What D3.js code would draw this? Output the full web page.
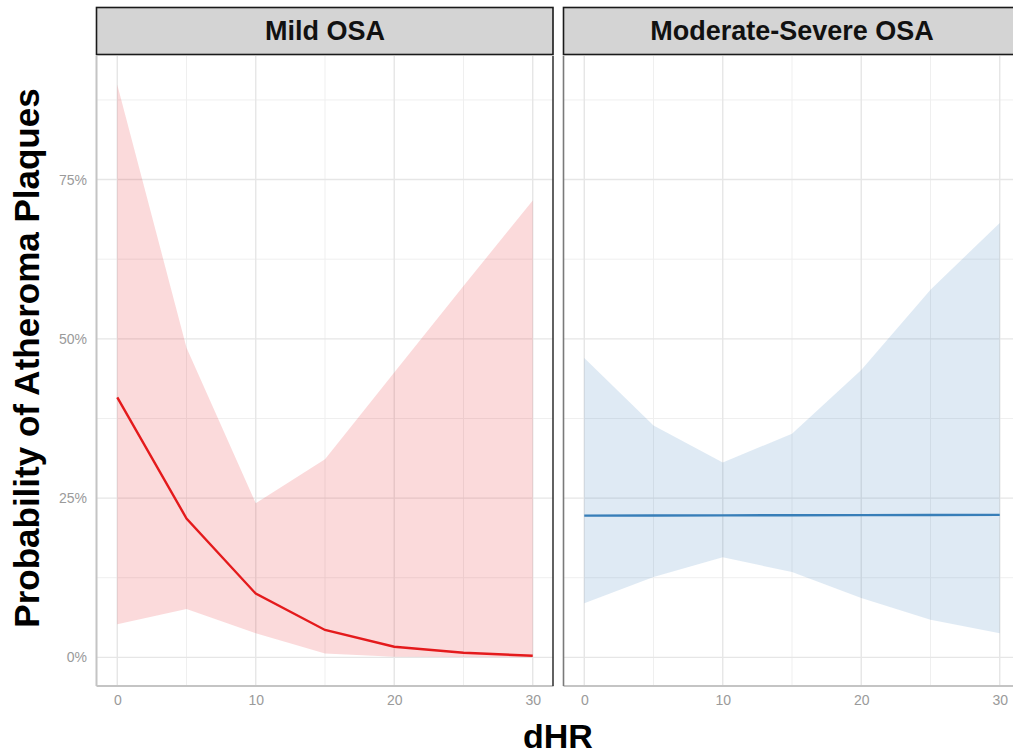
<!DOCTYPE html>
<html>
<head>
<meta charset="utf-8">
<script src="https://cdn.jsdelivr.net/npm/d3@7/dist/d3.min.js"></script>
<style>
  html, body { margin: 0; padding: 0; background: #fff; }
  svg { display: block; font-family: "Liberation Sans", Arial, Helvetica, sans-serif; }
</style>
</head>
<body>
<svg id="chart" width="1013" height="755"></svg>
<script>
// ---- Data ----
const panels = ["Mild OSA", "Moderate-Severe OSA"];
const dHR = [0, 5, 10, 15, 20, 25, 30];

const mildFit   = [0.408, 0.218, 0.100, 0.043, 0.0167, 0.0072, 0.0025];
const mildUpper = [0.899, 0.486, 0.242, 0.311, 0.447, 0.583, 0.717];
const mildLower = [0.052, 0.076, 0.038, 0.006, 0.001, 0.0005, 0.0001];

const modFit    = [0.2225, 0.2227, 0.2229, 0.2231, 0.2233, 0.2235, 0.2237];
const modUpper  = [0.470, 0.364, 0.306, 0.351, 0.451, 0.577, 0.682];
const modLower  = [0.085, 0.126, 0.157, 0.134, 0.093, 0.059, 0.038];

const xTicks = [0, 10, 20, 30];
const xMinor = [5, 15, 25];
const yTicks = [0, 0.25, 0.5, 0.75];
const yMinor = [0.125, 0.375, 0.625, 0.875];
const yTickLabels = ["0%", "25%", "50%", "75%"];

const lineColors = ["#e41a1c", "#377eb8"];

const series = [
  { name: panels[0], fit: mildFit, lo: mildLower, hi: mildUpper },
  { name: panels[1], fit: modFit,  lo: modLower,  hi: modUpper }
];

// ---- Layout ----
const svg = d3.select("#chart");
const plotTop = 56, plotBottom = 686;
const panelRanges = [[96.5, 553.5], [563.5, 1020.5]];

// ggplot-like 5% expansion
const xExt = d3.extent(dHR);
const xPad = (xExt[1] - xExt[0]) * 0.05;
const allY = [].concat(mildLower, mildUpper, modLower, modUpper, mildFit, modFit);
const yExt = [0, d3.max(allY)];
const yPad = (yExt[1] - yExt[0]) * 0.05;

const y = d3.scaleLinear().domain([yExt[0] - yPad, yExt[1] + yPad]).range([plotBottom, plotTop]);

series.forEach((s, i) => {
  const [x0, x1] = panelRanges[i];
  const x = d3.scaleLinear().domain([xExt[0] - xPad, xExt[1] + xPad]).range([x0, x1]);
  const g = svg.append("g");

  // grid minor
  g.selectAll(".gxm").data(xMinor).join("line")
    .attr("x1", d => x(d)).attr("x2", d => x(d)).attr("y1", plotTop).attr("y2", plotBottom)
    .attr("stroke", "#efefef").attr("stroke-width", 1);
  g.selectAll(".gym").data(yMinor).join("line")
    .attr("x1", x0).attr("x2", x1).attr("y1", d => y(d)).attr("y2", d => y(d))
    .attr("stroke", "#efefef").attr("stroke-width", 1);
  // grid major
  g.selectAll(".gx").data(xTicks).join("line")
    .attr("x1", d => x(d)).attr("x2", d => x(d)).attr("y1", plotTop).attr("y2", plotBottom)
    .attr("stroke", "#e6e6e6").attr("stroke-width", 1.4);
  g.selectAll(".gy").data(yTicks).join("line")
    .attr("x1", x0).attr("x2", x1).attr("y1", d => y(d)).attr("y2", d => y(d))
    .attr("stroke", "#e6e6e6").attr("stroke-width", 1.4);

  // ribbon
  const pts = dHR.map((d, k) => ({ x: d, lo: s.lo[k], hi: s.hi[k], fit: s.fit[k] }));
  g.append("path").datum(pts)
    .attr("d", d3.area().x(d => x(d.x)).y0(d => y(d.lo)).y1(d => y(d.hi)))
    .attr("fill", lineColors[i]).attr("fill-opacity", 0.16);
  // line
  g.append("path").datum(pts)
    .attr("d", d3.line().x(d => x(d.x)).y(d => y(d.fit)))
    .attr("fill", "none").attr("stroke", lineColors[i]).attr("stroke-width", 2.4);

  // axis lines
  g.append("line").attr("x1", x0).attr("x2", x1).attr("y1", plotBottom).attr("y2", plotBottom)
    .attr("stroke", "#c4c4c4").attr("stroke-width", 2);
  g.append("line").attr("x1", x0).attr("x2", x0).attr("y1", plotTop).attr("y2", plotBottom)
    .attr("stroke", i === 0 ? "#c4c4c4" : "#7a7a7a").attr("stroke-width", i === 0 ? 2 : 1.6);
  if (i === 0) {
    g.append("line").attr("x1", x1 - 0.5).attr("x2", x1 - 0.5).attr("y1", plotTop).attr("y2", plotBottom)
      .attr("stroke", "#3a3a3a").attr("stroke-width", 1.6);
  }

  // x axis labels
  const xa = d3.axisBottom(x).tickValues(xTicks).tickSize(0).tickPadding(0).tickFormat(d3.format("d"));
  const xg = g.append("g").attr("transform", `translate(0,${plotBottom + 9})`).call(xa);
  xg.select(".domain").remove();
  xg.selectAll("text").attr("fill", "#9a9a9a").attr("font-size", 14).attr("dy", "0.71em")
    .attr("font-family", "'Liberation Sans', Arial, sans-serif");

  // y axis on first panel
  if (i === 0) {
    const ya = d3.axisLeft(y).tickValues(yTicks).tickSize(0).tickPadding(0)
      .tickFormat((d, k) => yTickLabels[k]);
    const yg = g.append("g").attr("transform", `translate(${x0 - 9.5},0)`).call(ya);
    yg.select(".domain").remove();
    yg.selectAll("text").attr("fill", "#9a9a9a").attr("font-size", 14)
      .attr("font-family", "'Liberation Sans', Arial, sans-serif");
  }

  // strip
  g.append("rect").attr("x", x0).attr("y", 7.5).attr("width", x1 - x0 - 0.5).attr("height", 47)
    .attr("fill", "#d4d4d4").attr("stroke", "#1a1a1a").attr("stroke-width", 1.6);
  g.append("text").attr("x", (x0 + x1) / 2).attr("y", 31).attr("dy", "0.35em")
    .attr("text-anchor", "middle").attr("font-size", 27).attr("font-weight", "bold")
    .attr("fill", "#111").text(s.name);
});

// axis titles
svg.append("text").attr("x", 558).attr("y", 748)
  .attr("text-anchor", "middle").attr("font-size", 34).attr("font-weight", "bold")
  .attr("fill", "#000").text("dHR");
svg.append("text").attr("transform", "translate(39,358) rotate(-90)")
  .attr("text-anchor", "middle").attr("font-size", 35).attr("font-weight", "bold")
  .attr("fill", "#000").text("Probability of Atheroma Plaques");
</script>
</body>
</html>
